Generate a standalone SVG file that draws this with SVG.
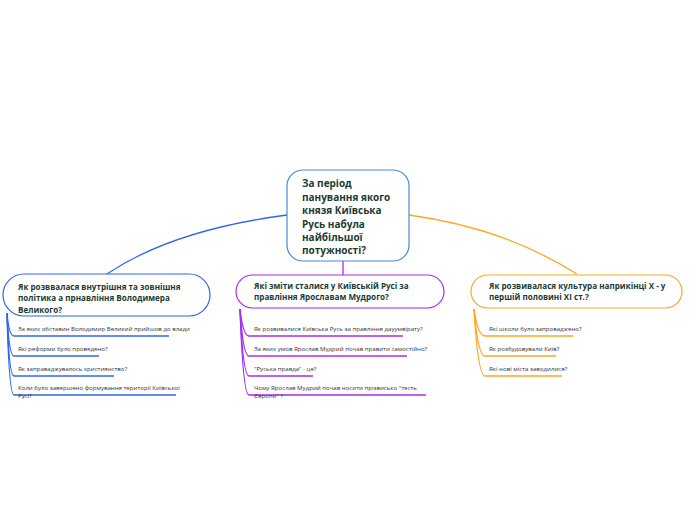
<svg xmlns="http://www.w3.org/2000/svg" width="696" height="520" viewBox="0 0 696 520">
<style>
.hd{font-family:"Open Sans","Noto Sans","DejaVu Sans",sans-serif;font-weight:bold;fill:#1b3b33}
.c{font-size:10px}
.m{font-size:8.1px}
.s{font-family:"Open Sans","Noto Sans","DejaVu Sans",sans-serif;font-size:6.1px;fill:#333}
.nb{fill:#fff;stroke-width:1.2}
.ln{fill:none;stroke-width:1.3}
.ul{fill:none;stroke-width:1.6}
.blue{stroke:#2f66f0}
.pur{stroke:#a52cf0}
.org{stroke:#ffa51f}
</style>
<rect width="696" height="520" fill="#fff"/>
<g id="connectors">
<path class="ln blue" d="M287 215 C 210 225 150 245 107 274"/>
<path class="ln pur" d="M343 261 L343 275"/>
<path class="ln org" d="M409 215 C 480 225 530 245 577 274"/>
<path class="ln blue" d="M7 313 Q 9 336 14 336"/>
<path class="ln blue" d="M7 313 Q 9 356 14 356"/>
<path class="ln blue" d="M7 313 Q 9 376 14 376"/>
<path class="ln blue" d="M7 313 Q 9 395 14 395"/>
<path class="ln pur" d="M240 309 Q 243 336 249 336"/>
<path class="ln pur" d="M240 309 Q 243 356 249 356"/>
<path class="ln pur" d="M240 309 Q 243 376 249 376"/>
<path class="ln pur" d="M240 309 Q 243 395 249 395"/>
<path class="ln org" d="M474 309 Q 478 336 485 336"/>
<path class="ln org" d="M474 309 Q 478 356 485 356"/>
<path class="ln org" d="M474 309 Q 478 376 485 376"/>
</g>
<g id="central">
<rect class="nb" x="287" y="170" width="122" height="91" rx="16" stroke="#3f8fd6"/>
<text class="hd c"><tspan x="302" y="187">За період</tspan><tspan x="302" y="201">панування якого</tspan><tspan x="302" y="214">князя Київська</tspan><tspan x="302" y="228">Русь набула</tspan><tspan x="302" y="241">найбільшої</tspan><tspan x="302" y="254">потужності?</tspan></text>
</g>
<g id="left">
<rect class="nb blue" x="3" y="274" width="207" height="42" rx="21"/>
<text class="hd m"><tspan x="18" y="289.5">Як розввалася внутрішня та зовнішня</tspan><tspan x="18" y="301">політика а прнавління Володимера</tspan><tspan x="18" y="312.5">Великого?</tspan></text>
</g>
<g id="left-sub1"><path class="ul blue" d="M14 336 H169"/><text class="s" x="18" y="331">За яких обставин Володимир Великий прийшов до влади</text></g>
<g id="left-sub2"><path class="ul blue" d="M14 356 H99"/><text class="s" x="18" y="351">Які реформи було проведено?</text></g>
<g id="left-sub3"><path class="ul blue" d="M14 376 H114"/><text class="s" x="18" y="371">Як заправаджувалось християнство?</text></g>
<g id="left-sub4"><path class="ul blue" d="M14 395 H176"/><text class="s"><tspan x="18" y="390">Коли було завершено формування території Київської</tspan><tspan x="18" y="398">Русі?</tspan></text></g>
<g id="middle">
<rect class="nb pur" x="236" y="275" width="208" height="33" rx="16.5"/>
<text class="hd m"><tspan x="254" y="289">Які зміти сталися у Київській Русі за</tspan><tspan x="254" y="300">правління Ярославам Мудрого?</tspan></text>
</g>
<g id="mid-sub1"><path class="ul pur" d="M249 336 H403"/><text class="s" x="254" y="331">Як розвивалися Київська Русь за правління дауумвірату?</text></g>
<g id="mid-sub2"><path class="ul pur" d="M249 356 H407"/><text class="s" x="254" y="351">За яких умов Ярослав Мудрий почав правити самостійно?</text></g>
<g id="mid-sub3"><path class="ul pur" d="M249 376 H313"/><text class="s" x="254" y="371">"Руська правда" - це?</text></g>
<g id="mid-sub4"><path class="ul pur" d="M249 395 H426"/><text class="s"><tspan x="254" y="390">Чому Ярослав Мудрий почав носити прізвисько "тесть</tspan><tspan x="254" y="398">Європи" ?</tspan></text></g>
<g id="right">
<rect class="nb org" x="471" y="275" width="211" height="33" rx="16.5"/>
<text class="hd m"><tspan x="489" y="289">Як розвивалася культура наприкінці Х - у</tspan><tspan x="489" y="300">першій половині ХІ ст.?</tspan></text>
</g>
<g id="right-sub1"><path class="ul org" d="M485 336 H573"/><text class="s" x="489" y="331">Які школи було запроваджено?</text></g>
<g id="right-sub2"><path class="ul org" d="M485 356 H556"/><text class="s" x="489" y="351">Як розбудовували Київ?</text></g>
<g id="right-sub3"><path class="ul org" d="M485 376 H562"/><text class="s" x="489" y="371">Які нові міста заводилися?</text></g>
</svg>
